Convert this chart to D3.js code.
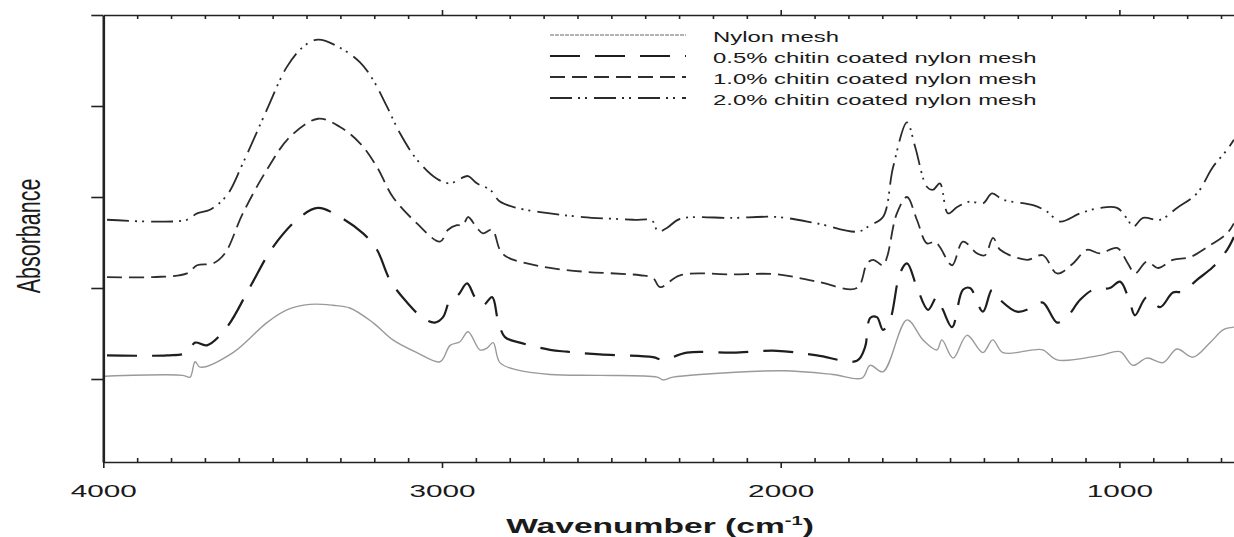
<!DOCTYPE html>
<html>
<head>
<meta charset="utf-8">
<script src="https://cdn.jsdelivr.net/npm/d3@7"></script>
<style>
body{margin:0;background:#fff;overflow:hidden}
text{font-family:"Liberation Sans",Arial,sans-serif;fill:#1a1a1a}
</style>
</head>
<body>
<div id="chart"></div>
<script>
// wavenumber (cm-1), absorbance (arbitrary, offset curves)
var nylon = [[3995,1.03],[3765,1.04],[3744,1.02],[3729,1.19],[3714,1.13],[3617,1.29],[3517,1.62],[3458,1.76],[3390,1.82],[3322,1.81],[3272,1.78],[3204,1.62],[3145,1.43],[3074,1.29],[3006,1.19],[2976,1.37],[2947,1.41],[2923,1.52],[2888,1.32],[2867,1.34],[2849,1.40],[2829,1.18],[2779,1.10],[2681,1.05],[2534,1.04],[2365,1.02],[2347,0.99],[2318,1.02],[2238,1.05],[1993,1.09],[1846,1.05],[1760,1.01],[1736,1.15],[1698,1.08],[1627,1.65],[1580,1.43],[1539,1.32],[1524,1.43],[1491,1.23],[1450,1.48],[1403,1.29],[1374,1.43],[1344,1.29],[1255,1.32],[1226,1.32],[1184,1.21],[1057,1.26],[998,1.30],[960,1.15],[919,1.23],[871,1.18],[830,1.33],[783,1.24],[732,1.40],[694,1.54],[662,1.57]];
var chitin05 = [[3989,1.26],[3812,1.26],[3753,1.29],[3729,1.40],[3694,1.37],[3635,1.57],[3567,2.01],[3499,2.45],[3419,2.78],[3366,2.88],[3301,2.78],[3233,2.60],[3192,2.42],[3154,2.09],[3103,1.84],[3056,1.67],[3021,1.62],[2997,1.68],[2976,1.87],[2953,1.92],[2926,2.05],[2903,1.90],[2879,1.81],[2852,1.90],[2835,1.65],[2814,1.46],[2770,1.40],[2681,1.32],[2631,1.30],[2534,1.27],[2377,1.24],[2347,1.21],[2277,1.29],[2141,1.29],[2011,1.31],[1893,1.26],[1775,1.20],[1751,1.35],[1736,1.67],[1716,1.68],[1698,1.54],[1677,1.65],[1648,2.16],[1627,2.27],[1598,2.01],[1565,1.76],[1539,1.90],[1521,1.76],[1494,1.57],[1462,1.98],[1441,2.00],[1403,1.74],[1376,1.98],[1352,1.87],[1302,1.74],[1255,1.79],[1226,1.84],[1184,1.62],[1155,1.68],[1116,1.87],[1078,1.98],[1028,2.00],[998,2.07],[969,1.84],[954,1.70],[919,1.90],[880,1.79],[842,1.95],[812,1.96],[771,2.09],[724,2.23],[682,2.42],[662,2.56]];
var chitin10 = [[3989,2.12],[3853,2.12],[3753,2.16],[3723,2.25],[3676,2.27],[3641,2.38],[3588,2.82],[3517,3.30],[3449,3.66],[3366,3.86],[3301,3.77],[3242,3.59],[3192,3.33],[3145,3.00],[3074,2.71],[3006,2.51],[2982,2.64],[2956,2.69],[2938,2.69],[2923,2.78],[2897,2.66],[2879,2.60],[2852,2.64],[2829,2.42],[2808,2.34],[2749,2.27],[2681,2.22],[2584,2.18],[2415,2.14],[2377,2.11],[2356,2.01],[2297,2.14],[2141,2.15],[2011,2.15],[1893,2.07],[1775,2.00],[1745,2.27],[1727,2.31],[1698,2.25],[1686,2.34],[1657,2.82],[1627,3.00],[1598,2.75],[1568,2.49],[1544,2.51],[1530,2.45],[1494,2.25],[1462,2.51],[1420,2.38],[1397,2.36],[1373,2.55],[1352,2.42],[1273,2.31],[1226,2.36],[1184,2.16],[1137,2.27],[1096,2.42],[1057,2.38],[1007,2.44],[975,2.27],[954,2.16],[919,2.29],[886,2.22],[842,2.31],[791,2.34],[732,2.47],[682,2.60],[662,2.71]];
var chitin20 = [[3989,2.75],[3853,2.73],[3753,2.75],[3723,2.82],[3685,2.86],[3635,3.02],[3588,3.37],[3517,3.96],[3458,4.43],[3410,4.65],[3366,4.73],[3301,4.64],[3242,4.48],[3204,4.29],[3162,3.99],[3124,3.70],[3074,3.41],[3015,3.20],[2976,3.15],[2947,3.20],[2923,3.23],[2897,3.15],[2858,3.08],[2829,2.95],[2779,2.88],[2681,2.82],[2584,2.78],[2436,2.75],[2380,2.74],[2362,2.62],[2336,2.66],[2297,2.76],[2141,2.77],[2011,2.78],[1893,2.71],[1772,2.62],[1736,2.69],[1698,2.78],[1668,3.33],[1627,3.82],[1603,3.55],[1568,3.11],[1550,3.08],[1530,3.15],[1506,2.82],[1479,2.89],[1441,2.95],[1403,2.93],[1376,3.04],[1344,2.97],[1255,2.91],[1214,2.84],[1175,2.73],[1116,2.82],[1057,2.88],[1007,2.88],[975,2.75],[960,2.67],[930,2.77],[880,2.75],[830,2.88],[771,3.04],[724,3.33],[682,3.52],[662,3.63]];

var seriesNames = ["Nylon mesh", "0.5% chitin coated nylon mesh", "1.0% chitin coated nylon mesh", "2.0% chitin coated nylon mesh"];
var seriesData = [nylon, chitin05, chitin10, chitin20];
var xMajorTicks = [4000, 3000, 2000, 1000];
var xMinorTicks = d3.range(3900, 600, -100).filter(function(d){ return d % 1000 != 0 });
var yTicks = [1, 2, 3, 4, 5];

var styles = [
    {stroke: "#9a9a9a", width: 1.4, dash: null},
    {stroke: "#1e1e1e", width: 2.2, dash: "30,15"},
    {stroke: "#2e2e2e", width: 1.8, dash: "15,7"},
    {stroke: "#2a2a2a", width: 1.8, dash: "22,6,2,5,2,7"}
];

var W = 1234, H = 537
var plotLeft = 103.3, plotTop = 15, plotBottom = 462

var svg = d3.select("#chart").append("svg")
    .attr("width", W).attr("height", H)

var x = d3.scaleLinear().domain([4000, 650]).range([plotLeft, plotLeft + 3350 * 0.3387])
var y = d3.scaleLinear().domain([0.088, 5]).range([plotBottom, plotTop])

svg.append("clipPath").attr("id", "plotclip")
    .append("rect").attr("x", plotLeft).attr("y", plotTop).attr("width", W - plotLeft).attr("height", plotBottom - plotTop)

// curves
var line = d3.line()
    .x(function(d){ return x(d[0]) })
    .y(function(d){ return y(d[1]) })
    .curve(d3.curveCatmullRom.alpha(0.5))

svg.append("g").attr("clip-path", "url(#plotclip)")
    .selectAll("path").data(seriesData).enter()
    .append("path")
    .attr("d", line)
    .attr("fill", "none")
    .attr("stroke", function(d, i){ return styles[i].stroke })
    .attr("stroke-width", function(d, i){ return styles[i].width })
    .attr("stroke-dasharray", function(d, i){ return styles[i].dash })
    .attr("stroke-linecap", "butt")

// bottom axis
var gb = svg.append("g").attr("transform", "translate(0," + plotBottom + ")")
gb.call(d3.axisBottom(x).tickValues(xMinorTicks).tickSize(-4).tickSizeOuter(0).tickFormat(""))
var gbMajor = svg.append("g").attr("transform", "translate(0," + plotBottom + ")")
gbMajor.call(d3.axisBottom(x).tickValues(xMajorTicks).tickSize(6).tickSizeOuter(0).tickPadding(17).tickFormat(d3.format("d")))
gbMajor.select(".domain").remove()
gbMajor.selectAll("text")
    .attr("font-size", 17).attr("font-family", "Liberation Sans, Arial, sans-serif")
    .attr("fill", "#222").attr("dy", "0.71em")
    .attr("transform", "scale(1.75,1)")

// top axis
var gt = svg.append("g").attr("transform", "translate(0," + plotTop + ")")
gt.call(d3.axisTop(x).tickValues(xMinorTicks).tickSize(-4).tickSizeOuter(0).tickFormat(""))
var gtMajor = svg.append("g").attr("transform", "translate(0," + plotTop + ")")
gtMajor.call(d3.axisTop(x).tickValues(xMajorTicks.slice(1)).tickSize(5).tickFormat(""))
gtMajor.select(".domain").remove()

// left axis
var gl = svg.append("g").attr("transform", "translate(" + plotLeft + ",0)")
gl.call(d3.axisLeft(y).tickValues(yTicks).tickSize(12).tickSizeOuter(0).tickFormat(""))

svg.selectAll(".domain").attr("stroke", "#222").attr("stroke-width", 1.6)
gl.select(".domain").attr("stroke-width", 2.6)
svg.selectAll(".tick line").attr("stroke", "#222").attr("stroke-width", 1.6)

// axis titles
svg.append("text")
    .attr("transform", "translate(28,236) scale(1.55,1) rotate(-90)")
    .attr("text-anchor", "middle")
    .attr("dy", "0.35em")
    .attr("font-size", 21.5)
    .text("Absorbance")

var xt = svg.append("text")
    .attr("transform", "translate(660,533) scale(1.68,1)")
    .attr("text-anchor", "middle")
    .attr("font-size", 20)
    .attr("font-weight", "bold")
xt.append("tspan").text("Wavenumber (cm")
xt.append("tspan").attr("font-size", 12).attr("dy", -8).text("-1")
xt.append("tspan").attr("dy", 8).text(")")

// legend
var legend = svg.append("g")
var rows = legend.selectAll("g").data(seriesNames).enter().append("g")
    .attr("transform", function(d, i){ return "translate(0," + (42 + i * 21) + ")" })
rows.append("line")
    .attr("x1", 550).attr("x2", 686).attr("y1", -7).attr("y2", -7)
    .attr("stroke", function(d, i){ return styles[i].stroke })
    .attr("stroke-width", function(d, i){ return styles[i].width })
    .attr("stroke-dasharray", function(d, i){ return i == 0 ? "4,1" : styles[i].dash })
rows.append("text")
    .attr("transform", "translate(713,0) scale(1.54,1)")
    .attr("font-size", 15.5)
    .text(function(d){ return d })
</script>
</body>
</html>
